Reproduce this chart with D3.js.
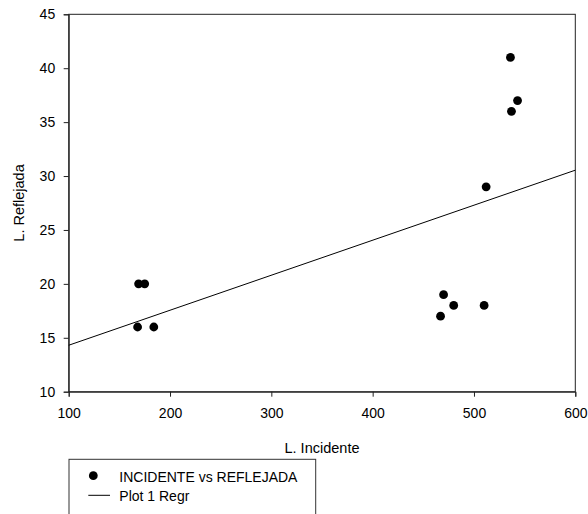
<!DOCTYPE html>
<html>
<head>
<meta charset="utf-8">
<script src="https://cdn.jsdelivr.net/npm/d3@7"></script>
<style>
  body { margin: 0; background: #fff; }
  svg { display: block; font-family: "Liberation Sans", Arial, sans-serif; }
</style>
</head>
<body>
<div id="chart"></div>
<script>
// data
const incidente = [168, 169, 175, 184, 467, 470, 480, 510, 512, 536, 537, 543];
const reflejada = [16, 20, 20, 16, 17, 19, 18, 18, 29, 41, 36, 37];
const xTicks = [100, 200, 300, 400, 500, 600];
const yTicks = [10, 15, 20, 25, 30, 35, 40, 45];

const W = 588, H = 514;
const mLeft = 68.7, mRight = 575.3, mTop = 14.3, mBottom = 391.7;

const svg = d3.select("#chart")
    .append("svg")
    .attr("width", W)
    .attr("height", H);

const x = d3.scaleLinear().domain([100, 600]).range([mLeft, mRight]);
const y = d3.scaleLinear().domain([10, 45]).range([mBottom, mTop]);

// frame
svg.append("rect")
    .attr("x", mLeft).attr("y", mTop)
    .attr("width", mRight - mLeft).attr("height", mBottom - mTop)
    .attr("fill", "none").attr("stroke", "#222").attr("stroke-width", 1);

const xAxis = svg.append("g")
    .attr("transform", `translate(0,${mBottom})`)
    .call(d3.axisBottom(x).tickValues(xTicks).tickSize(5).tickPadding(11));

const yAxis = svg.append("g")
    .attr("transform", `translate(${mLeft},0)`)
    .call(d3.axisLeft(y).tickValues(yTicks).tickSize(5).tickPadding(8.5));

[xAxis, yAxis].forEach(g => {
    g.select(".domain").attr("stroke", "#222");
    g.selectAll(".tick line").attr("stroke", "#222");
    g.selectAll(".tick text")
        .attr("fill", "#000")
        .attr("font-size", "14px")
        .attr("font-family", "Liberation Sans, Arial, sans-serif");
});

// least squares line (Plot 1 Regr)
const mx = d3.mean(incidente), my = d3.mean(reflejada);
const sxy = d3.sum(incidente, (v, i) => (v - mx) * (reflejada[i] - my));
const sxx = d3.sum(incidente, v => (v - mx) * (v - mx));
const slope = sxy / sxx, icpt = my - slope * mx;

svg.append("line")
    .attr("x1", x(100)).attr("y1", y(icpt + slope * 100))
    .attr("x2", x(600)).attr("y2", y(icpt + slope * 600))
    .attr("stroke", "#000").attr("stroke-width", 1);

svg.selectAll("circle.pt")
    .data(incidente)
    .join("circle")
    .attr("class", "pt")
    .attr("cx", d => x(d))
    .attr("cy", (d, i) => y(reflejada[i]))
    .attr("r", 4.4)
    .attr("fill", "#000");

// axis titles
svg.append("text")
    .text("L. Incidente")
    .attr("x", (mLeft + mRight) / 2)
    .attr("y", 452.7)
    .attr("text-anchor", "middle")
    .attr("font-size", "14.5px");

svg.append("text")
    .text("L. Reflejada")
    .attr("transform", `translate(24,${(mTop + mBottom) / 2}) rotate(-90)`)
    .attr("text-anchor", "middle")
    .attr("font-size", "14.5px");

// legend (runs off the bottom)
const lg = svg.append("g");
lg.append("rect")
    .attr("x", 69).attr("y", 459.3)
    .attr("width", 246.7).attr("height", 70)
    .attr("fill", "none").attr("stroke", "#333").attr("stroke-width", 1);
lg.append("circle")
    .attr("cx", 93.3).attr("cy", 475.7).attr("r", 4.4).attr("fill", "#000");
lg.append("text")
    .text("INCIDENTE vs REFLEJADA")
    .attr("x", 119.3).attr("y", 481.7)
    .attr("font-size", "14px");
lg.append("line")
    .attr("x1", 88.3).attr("x2", 110)
    .attr("y1", 495.3).attr("y2", 495.3)
    .attr("stroke", "#000");
lg.append("text")
    .text("Plot 1 Regr")
    .attr("x", 119.3).attr("y", 500.7)
    .attr("font-size", "14px");
</script>
</body>
</html>
